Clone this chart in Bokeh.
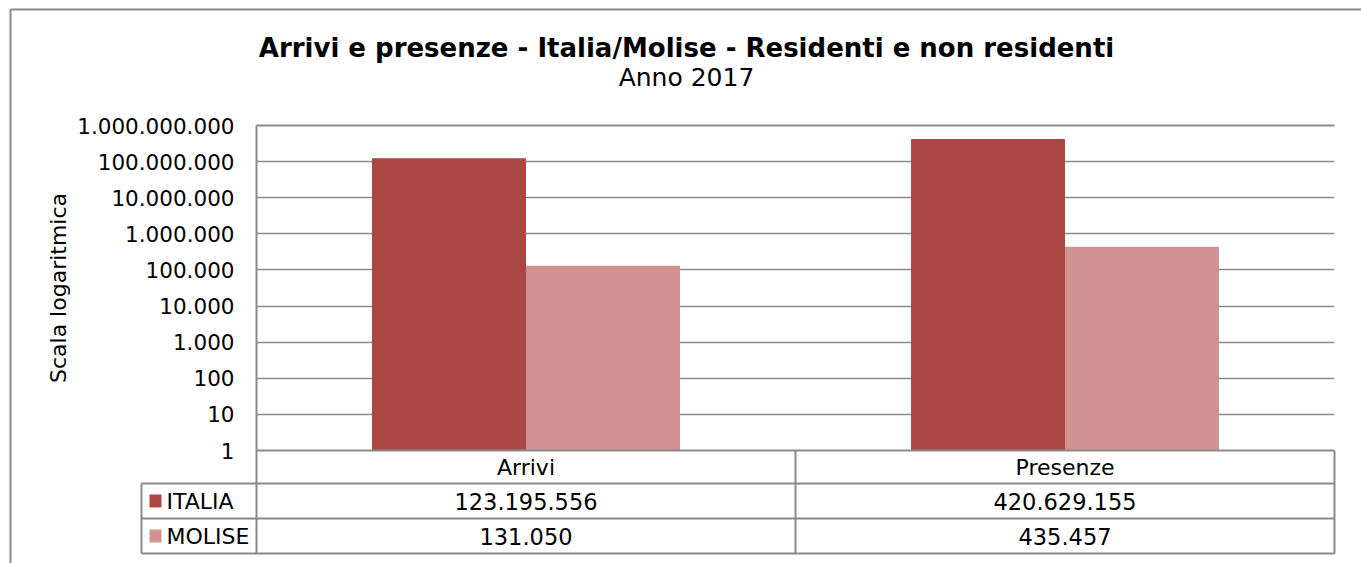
from bokeh.plotting import figure
from bokeh.models import (Range1d, LinearScale, FixedTicker, ColumnDataSource)
from bokeh.core.properties import value
from bokeh.transform import dodge
from bokeh.embed import file_html
from bokeh.resources import INLINE

# ---------------- data ----------------
title_text = "Arrivi e presenze - Italia/Molise - Residenti e non residenti"
subtitle_text = "Anno 2017"
y_axis_title = "Scala logaritmica"
categories = ["Arrivi", "Presenze"]
series_names = ["ITALIA", "MOLISE"]
italia = [123195556, 420629155]
molise = [131050, 435457]
series_colors = ["#AA4744", "#D39292"]
tick_values = [1, 10, 100, 1000, 10000, 100000, 1000000, 10000000,
               100000000, 1000000000]
tick_labels = ["1", "10", "100", "1.000", "10.000", "100.000", "1.000.000",
               "10.000.000", "100.000.000", "1.000.000.000"]

# ---------------- layout ----------------
W, H = 1361, 563
FL, FR, FT, FB = 256, 1334, 125, 450
GRAY = "#8a8a8a"
FONT = "DejaVu Sans"

p = figure(width=W, height=H, x_range=Range1d(0, len(categories)),
           y_range=Range1d(1, 1e9), y_axis_type="log",
           output_backend="svg", toolbar_location=None,
           min_border_left=FL, min_border_right=W - FR,
           min_border_top=FT, min_border_bottom=H - FB)
p.outline_line_color = None
p.background_fill_color = "white"
p.border_fill_color = "white"

# pixel-like helper ranges for the decorations outside the frame
p.extra_x_ranges = {"px": Range1d(FL, FR)}
p.extra_y_ranges = {"py": Range1d(FB, FT)}
p.extra_x_scales = {"px": LinearScale()}
p.extra_y_scales = {"py": LinearScale()}

cat_pos = [i + 0.5 for i in range(len(categories))]
src = ColumnDataSource(dict(pos=cat_pos, italia=italia, molise=molise))
bw = 2 / 7
p.vbar(x=dodge("pos", -bw / 2), top="italia", bottom=1,
       width=bw, source=src, fill_color=series_colors[0], line_color=None)
p.vbar(x=dodge("pos", bw / 2), top="molise", bottom=1,
       width=bw, source=src, fill_color=series_colors[1], line_color=None)

# grid / axes
p.xgrid.visible = False
p.ygrid.ticker = FixedTicker(ticks=tick_values)
p.ygrid.grid_line_color = GRAY
p.ygrid.grid_line_width = 1.5
p.xaxis.visible = False

ya = p.yaxis[0]
ya.ticker = FixedTicker(ticks=tick_values)
ya.major_label_overrides = {v: l for v, l in zip(tick_values, tick_labels)}
ya.axis_line_color = GRAY
ya.axis_line_width = 2
ya.major_tick_line_color = None
ya.minor_tick_line_color = None
ya.major_label_text_font = FONT
ya.major_label_text_font_size = "21.5px"
ya.major_label_text_color = "black"
ya.major_label_standoff = 16
ya.axis_label = y_axis_title
ya.axis_label_text_font = FONT
ya.axis_label_text_font_style = "normal"
ya.axis_label_text_font_size = "22px"
ya.axis_label_text_color = "black"
ya.axis_label_standoff = 3

# ---- decorations (overlay level so they can sit outside the frame) ----
hx0, hx1, hy = [], [], []
vx, vy0, vy1 = [], [], []


def hline(x0, x1, y):
    hx0.append(x0); hx1.append(x1); hy.append(y)


def vline(x, y0, y1):
    vx.append(x); vy0.append(y0); vy1.append(y1)


tx, ty, tt, ta, tsz, tst = [], [], [], [], [], []


def label(x, y, text, size, align="center", style="normal"):
    tx.append(x); ty.append(y); tt.append(text); ta.append(align)
    tsz.append(size); tst.append(style)


# outer chart border
hline(10, W + 20, 9)
vline(10, 9, H + 20)

# top gridline (frame edge)
hline(FL, FR, FT)

# titles
label(686, 47, title_text, "26px", style="bold")
label(686, 77, subtitle_text, "25px")

# data table
col_w = (FR - FL) / len(categories)
HEAD_B = 483
ROW_H = 35
LEG_L = 141
rows_bottom = HEAD_B + ROW_H * len(series_names)

hline(FL, FR, FB)
hline(LEG_L, FR, HEAD_B)
for i in range(len(series_names)):
    hline(LEG_L, FR, HEAD_B + ROW_H * (i + 1))
for j in range(len(categories) + 1):
    vline(FL + col_w * j, FB, rows_bottom)
vline(LEG_L, HEAD_B, rows_bottom)

for j, c in enumerate(categories):
    label(FL + col_w * (j + 0.5), (FB + HEAD_B) / 2, c, "22px")

sq_l, sq_r, sq_t, sq_b, sq_c = [], [], [], [], []
for i, (name, vals) in enumerate(zip(series_names, [italia, molise])):
    top = HEAD_B + ROW_H * i
    cy = top + ROW_H / 2
    sq_l.append(LEG_L + 8); sq_r.append(LEG_L + 20)
    sq_t.append(top + 11); sq_b.append(top + 24); sq_c.append(series_colors[i])
    label(LEG_L + 25, cy, name, "22px", align="left")
    for j, v in enumerate(vals):
        label(FL + col_w * (j + 0.5), cy, f"{v:,}".replace(",", "."), "22.5px")

common = dict(x_range_name="px", y_range_name="py", level="overlay")
p.segment(x0=hx0, x1=hx1, y0=hy, y1=hy, line_color=GRAY, line_width=2, **common)
p.segment(x0=vx, x1=vx, y0=vy0, y1=vy1, line_color=GRAY, line_width=2, **common)
p.quad(left=sq_l, right=sq_r, top=sq_t, bottom=sq_b, fill_color=sq_c,
       line_color=None, **common)
tsrc = ColumnDataSource(dict(x=tx, y=ty, text=tt, align=ta, size=tsz,
                             style=tst))
p.text(x="x", y="y", text="text", text_align="align", text_baseline="middle",
       text_font_size="size", text_font_style="style", text_font=value(FONT),
       text_color="black", source=tsrc, **common)

open("out.html", "w").write(file_html(p, INLINE))
